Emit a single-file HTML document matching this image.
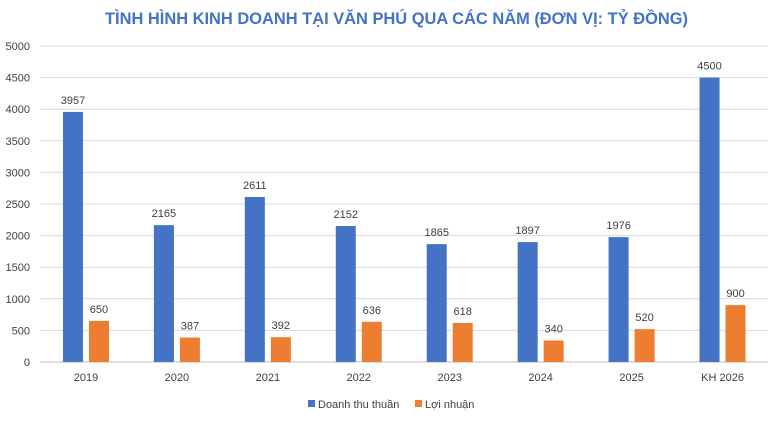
<!DOCTYPE html>
<html><head><meta charset="utf-8"><style>
html,body{margin:0;padding:0;background:#fff;}
svg{display:block;font-family:"Liberation Sans","DejaVu Sans",sans-serif;}
</style></head><body>
<svg id="chart" width="784" height="424" viewBox="0 0 784 424">
<text x="396.5" y="24" text-anchor="middle" font-size="17" font-weight="bold" fill="#4472C4" textLength="583" lengthAdjust="spacingAndGlyphs">TÌNH HÌNH KINH DOANH TẠI VĂN PHÚ QUA CÁC NĂM (ĐƠN VỊ: TỶ ĐỒNG)</text>
<g id="grid"></g><g id="bars"></g>
<g>
<rect x="308" y="400" width="7" height="7" fill="#4472C4"/>
<text x="318" y="408" font-size="11" fill="#404040">Doanh thu thuần</text>
<rect x="415" y="400" width="7" height="7" fill="#ED7D31"/>
<text x="425" y="408" font-size="11" fill="#404040">Lợi nhuận</text>
</g>
</svg>
<script>
const categories=["2019","2020","2021","2022","2023","2024","2025","KH 2026"];
const revenue=[3957,2165,2611,2152,1865,1897,1976,4500];
const profit=[650,387,392,636,618,340,520,900];
const yTicks=[0,500,1000,1500,2000,2500,3000,3500,4000,4500,5000];
const NS="http://www.w3.org/2000/svg";
const x0=40.5,x1=768,y0=362,yTop=46,yMax=5000;
const band=(x1-x0)/categories.length;
function y(v){return y0-(v/yMax)*(y0-yTop);}
function cx(i){return x0+band*(i+0.5);}
function mk(tag,attrs,parent){const e=document.createElementNS(NS,tag);for(const k in attrs)e.setAttribute(k,attrs[k]);parent.appendChild(e);return e;}
const grid=document.getElementById('grid'),bars=document.getElementById('bars');
yTicks.forEach(t=>{
  const l=mk('line',{x1:x0,x2:x1,y1:y(t),y2:y(t),stroke:t===0?'#bfbfbf':'#d9d9d9','stroke-width':1},grid);
  
  
  const tx=mk('text',{x:30,y:y(t)+4,'text-anchor':'end','font-size':11,fill:'#404040'},grid);
  tx.textContent=t;
  
  
});
categories.forEach((c,i)=>{
  const c0=cx(i);
  const b=mk('rect',{x:c0-23,y:y(revenue[i]),width:20,height:y0-y(revenue[i]),fill:'#4472C4'},bars);
  
  
  const o=mk('rect',{x:c0+3,y:y(profit[i]),width:20,height:y0-y(profit[i]),fill:'#ED7D31'},bars);
  
  
  const lr=mk('text',{x:c0-13,y:y(revenue[i])-8,'text-anchor':'middle','font-size':11,fill:'#404040'},bars);
  lr.textContent=revenue[i];
  
  
  const lp=mk('text',{x:c0+13,y:y(profit[i])-8,'text-anchor':'middle','font-size':11,fill:'#404040'},bars);
  lp.textContent=profit[i];
  
  
  const xl=mk('text',{x:c0,y:381,'text-anchor':'middle','font-size':11,fill:'#404040'},bars);
  xl.textContent=c;
  
  
});
</script>
</body></html>
